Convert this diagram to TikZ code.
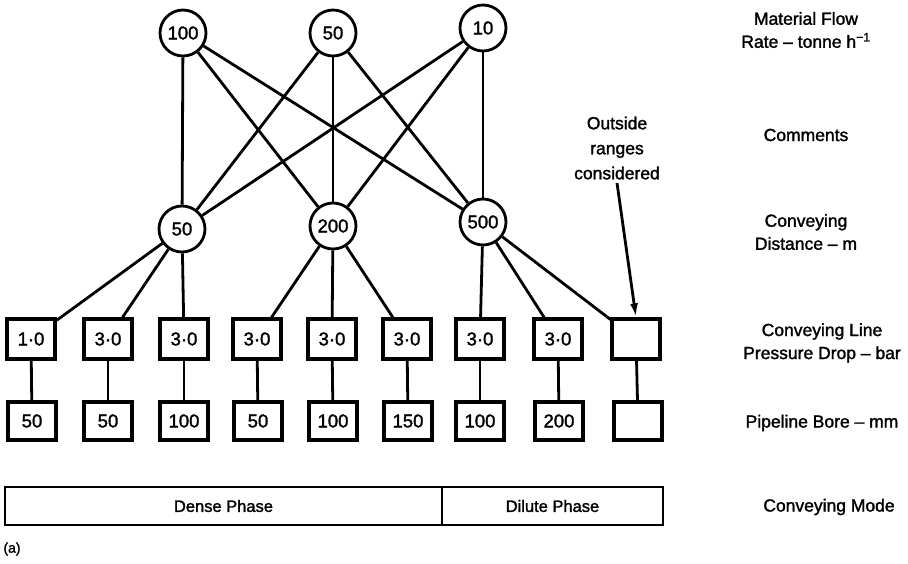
\documentclass[tikz,border=0pt]{standalone}
\usepackage{fontspec}
\setmainfont[FakeBold=1.6]{Liberation Sans}
\usetikzlibrary{arrows.meta}
\begin{document}
\begin{tikzpicture}[x=1pt,y=-1pt,
  every node/.style={font=\fontsize{18.5}{22}\selectfont},
  ring/.style={draw,circle,line width=2.8pt,minimum size=46pt,inner sep=0pt},
  valbox/.style={draw,rectangle,line width=3.2pt,minimum width=48pt,minimum height=40pt,inner sep=1pt},
  modebox/.style={draw,rectangle,line width=2.8pt,minimum height=38pt,inner sep=0pt,font=\fontsize{16.5}{20}\selectfont},
  link/.style={line width=2.8pt},
  caption/.style={align=center,font=\fontsize{17.5}{23}\selectfont}]
\useasboundingbox (0,0) rectangle (908,564);

% material flow rates
\node[ring] (f1) at (183,33) {100};
\node[ring] (f2) at (333,33) {50};
\node[ring] (f3) at (483,28) {10};

% conveying distances
\node[ring] (d1) at (182,229) {50};
\node[ring] (d2) at (333,226) {200};
\node[ring] (d3) at (483,222) {500};

% every flow rate is tried with every distance
\foreach \f in {f1,f2,f3}
  \foreach \d in {d1,d2,d3}
    \draw[link] (\f) -- (\d);

% pressure drops
\foreach \i/\x/\t in {1/31/1·0,2/108/3·0,3/184/3·0,4/257/3·0,5/332/3·0,6/407/3·0,7/480/3·0,8/558/3·0,9/636/{}}
  \node[valbox] (p\i) at (\x,339) {\t};

% pipeline bores
\foreach \i/\x/\t in {1/32/50,2/108/50,3/184/100,4/258/50,5/333/100,6/408/150,7/480/100,8/559/200,9/638/{}}
  \node[valbox,minimum height=38pt] (b\i) at (\x,421) {\t};

% distance to pressure drop
\foreach \d/\a/\b/\c in {d1/1/2/3,d2/4/5/6,d3/7/8/9}{
  \draw[link] (\d) -- (p\a);
  \draw[link] (\d) -- (p\b);
  \draw[link] (\d) -- (p\c);
}

% pressure drop to bore
\foreach \i in {1,...,9}
  \draw[link] (p\i) -- (b\i);

% note and its arrow
\node[caption,align=center,font=\fontsize{17.5}{25}\selectfont] (note) at (617,148) {Outside\\ranges\\considered};
\draw[line width=2.8pt,-{Latex[length=14pt,width=8pt]}] (note.south) -- (p9.north);

% conveying mode bar
\node[modebox,minimum width=437pt] (dense) at (223.5,506) {Dense Phase};
\node[modebox,minimum width=221pt] (dilute) at (552.5,506) {Dilute Phase};

% row captions
\node[caption] (cap1) at (806,30) {Material Flow\\Rate -- tonne h\textsuperscript{−1}};
\node[caption] (cap2) at (806,135) {Comments};
\node[caption] (cap3) at (806,232) {Conveying\\Distance -- m};
\node[caption] (cap4) at (822,343) {Conveying Line\\Pressure Drop -- bar};
\node[caption] (cap5) at (822,423) {Pipeline Bore -- mm};
\node[caption] (cap6) at (829,507) {Conveying Mode};
\node[font=\fontsize{14}{16}\selectfont] (tag) at (12,549) {(a)};
\end{tikzpicture}
\end{document}
